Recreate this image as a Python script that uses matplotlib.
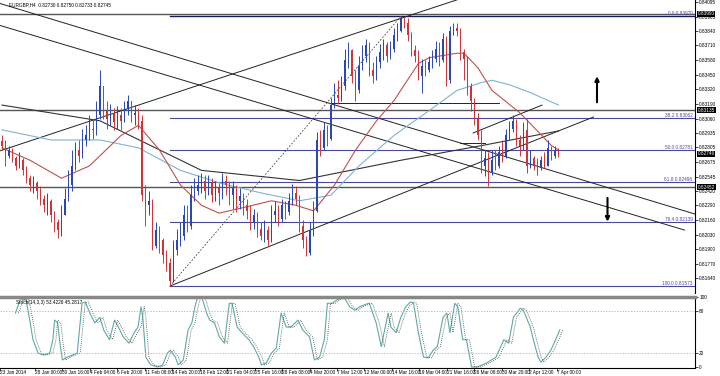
import matplotlib.pyplot as plt
import numpy as np

# EURGBP H4 chart, prices given in pips above 0.8100 (one candle per 8 hours)
open_first = 186
close_pips = [182, 173, 178, 171, 164, 169, 160, 153, 147, 149,
              142, 135, 129, 133, 120, 114, 107, 120, 135, 147,
              164, 178, 173, 187, 191, 197, 196, 209, 235, 213,
              206, 211, 203, 209, 204, 215, 222, 209, 211, 204,
              138, 129, 133, 93, 107, 98, 85, 78, 62, 89,
              98, 102, 120, 111, 138, 142, 147, 151, 142, 149,
              138, 144, 140, 151, 147, 138, 144, 133, 137, 129,
              124, 114, 120, 108, 102, 107, 98, 120, 124, 117,
              129, 123, 133, 140, 135, 111, 98, 87, 107, 124,
              187, 180, 196, 188, 218, 227, 224, 235, 258, 267,
              244, 231, 253, 262, 271, 249, 244, 256, 265, 271,
              262, 268, 280, 284, 294, 291, 280, 267, 262, 244,
              253, 249, 256, 259, 268, 258, 277, 240, 284, 286,
              284, 265, 259, 235, 222, 206, 191, 164, 171, 158,
              169, 164, 176, 173, 191, 197, 204, 187, 182, 196,
              164, 171, 164, 162, 169, 164, 180, 173, 178, 174.5]
high_pips = [191, 187, 182, 180, 173, 176, 171, 164, 156, 155,
             151, 146, 138, 140, 135, 124, 117, 129, 144, 160,
             178, 185, 187, 197, 200, 209, 206, 222, 249, 233,
             222, 219, 215, 217, 215, 222, 227, 222, 218, 215,
             209, 147, 142, 135, 114, 111, 100, 89, 82, 98,
             108, 114, 129, 129, 147, 153, 156, 158, 156, 156,
             153, 151, 149, 158, 156, 151, 151, 147, 144, 140,
             135, 129, 126, 123, 114, 116, 111, 129, 133, 129,
             135, 133, 140, 148, 146, 138, 116, 102, 114, 133,
             194, 196, 203, 200, 224, 238, 240, 244, 268, 274,
             268, 249, 262, 271, 277, 274, 256, 262, 272, 277,
             274, 275, 286, 291, 297, 296, 295, 283, 271, 267,
             259, 258, 262, 267, 275, 274, 282, 279, 288, 291,
             291, 286, 268, 262, 238, 224, 211, 196, 178, 176,
             178, 178, 182, 187, 197, 204, 209, 206, 191, 203,
             206, 178, 173, 171, 173, 176, 187, 182, 182, 180]
low_pips = [178, 164, 171, 167, 160, 162, 156, 149, 142, 140,
            135, 129, 123, 120, 114, 105, 100, 102, 120, 133,
            142, 160, 167, 171, 182, 187, 188, 191, 206, 206,
            197, 200, 196, 197, 196, 203, 209, 203, 200, 197,
            133, 111, 120, 89, 91, 87, 78, 71, 57, 61,
            85, 93, 98, 105, 108, 133, 138, 140, 135, 138,
            132, 133, 129, 135, 138, 129, 126, 123, 126, 120,
            117, 107, 108, 101, 98, 96, 93, 96, 114, 111,
            114, 117, 120, 129, 129, 105, 91, 84, 85, 102,
            123, 173, 178, 182, 187, 215, 219, 222, 231, 251,
            238, 222, 229, 249, 256, 244, 238, 240, 251, 258,
            256, 259, 265, 275, 283, 286, 275, 262, 256, 240,
            229, 244, 247, 251, 256, 253, 256, 235, 238, 280,
            279, 258, 240, 227, 213, 200, 187, 158, 155, 146,
            156, 160, 162, 167, 171, 187, 194, 182, 173, 178,
            158, 162, 160, 156, 160, 162, 164, 169, 171, 172]

# moving averages (bar index, pips)
ma_red_bar = [0, 8, 17, 25, 34, 39, 45, 51, 57, 62, 69, 77, 84, 89, 95, 101, 107,
              112, 119, 122, 130, 132, 136, 140, 148, 157, 159]
ma_red_pips = [180, 169, 153, 164, 191, 200, 178, 147, 129, 122, 127, 133, 129, 124,
               147, 178, 204, 222, 255, 260, 264, 264, 251, 231, 211, 182, 178]
ma_blue_bar = [0, 14, 28, 39, 51, 62, 74, 85, 94, 102, 112, 122, 130, 137, 140, 145, 151, 159]
ma_blue_pips = [196, 187, 187, 180, 160, 149, 140, 133, 138, 164, 191, 213, 231, 238,
                240, 236, 229, 218]
ma_dark_bar = [0, 28, 57, 85, 114, 137, 159]
ma_dark_pips = [218, 204, 160, 151, 169, 182, 195]

# fibonacci retracement (swing low -> swing high)
fib_low_bar, fib_high_bar = 48, 114
fib_names = ["0.0", "38.2", "50.0", "61.8", "76.4", "100.0"]
fib_prices = [0.83970, 0.83062, 0.82781, 0.82498, 0.82139, 0.81573]

# horizontal lines with black price tags
hlines = [0.83990, 0.83135, 0.82452]
tags = [0.83990, 0.83135, 0.82746, 0.82452]

# trend lines: (bar0, price0, bar1, price1)
trend_lines = [
    (-1, 0.82769, 150, 0.84320),
    (48, 0.81573, 169, 0.83074),
    (-1, 0.84086, 198, 0.82212),
    (-1, 0.83891, 195, 0.82070),
    (134.6, 0.82932, 154.3, 0.83180),
    (94, 0.83198, 142, 0.83198),
    (131, 0.82843, 138, 0.82843),
]

# stochastic %K (bar index, value)
stoch_bar = [0, 1.4, 3.1, 4.3, 5.1, 6.6, 8, 10, 10.9, 11.4, 12.3, 13.1, 13.7, 15.1, 16.6,
             18, 19.4, 20.3, 21.7, 23.1, 24.6, 25.7, 27.4, 28.9, 30, 31.4, 33.1, 34.6,
             35.7, 36.6, 37.1, 38, 39.4, 41.4, 42.9, 44.3, 45.1, 46.6, 47.4, 48.9, 50.3,
             51.4, 52.3, 53.1, 54.3, 55.7, 56.6, 58, 59.4, 60.9, 62.3, 63.1, 64.6, 66,
             68, 69.4, 70.9, 71.7, 73.1, 74.6, 76, 77.4, 78.9, 80.3, 82.3, 83.7, 85.7,
             87.1, 88.6, 90, 90.9, 92.3, 93.7, 95.7, 97.4, 98.9, 100.3, 102.3, 103.1,
             105.1, 106.6, 107.4, 108.6, 109.4, 110.9, 112.3, 113.7, 115.1, 116, 117.4,
             118.9, 120.3, 121.7, 122.9, 124.6, 125.7, 126.6, 128, 128.9, 130.3, 131.4,
             132.9, 134.6, 137.4, 140, 141.4, 142.3, 143.7, 145.1, 147.1, 148, 150,
             150.9, 152.3, 153.1, 154.6, 156, 157.4, 158.6]
stoch_k = [77, 96, 96, 63, 39, 20, 17, 20, 39, 67, 63, 29, 10, 14, 17,
           20, 91, 93, 77, 63, 71, 53, 39, 67, 57, 43, 34, 49,
           57, 86, 71, 14, 3, 0, 3, 20, 24, 14, 3, 10, 53,
           63, 86, 100, 100, 77, 67, 63, 43, 34, 91, 91, 57, 49,
           39, 29, 14, 3, 6, 20, 27, 77, 57, 57, 67, 53, 43,
           10, 14, 39, 91, 91, 96, 100, 86, 81, 86, 90, 91,
           63, 29, 49, 77, 57, 49, 71, 86, 93, 91, 49,
           14, 13, 24, 29, 71, 77, 49, 91, 86, 39, 39,
           0, 0, 6, 14, 29, 39, 34, 71, 84, 81, 57,
           39, 14, 7, 14, 24, 39, 53]

date_bar = [-4.5] + [5.7 + 8 * k for k in range(20)]
date_labels = ["23 Jan 2014", "28 Jan 00:00", "30 Jan 16:00", "4 Feb 04:00", "6 Feb 20:00",
               "11 Feb 08:00", "14 Feb 20:00", "18 Feb 12:00", "21 Feb 04:00", "25 Feb 16:00",
               "28 Feb 08:00", "4 Mar 20:00", "7 Mar 12:00", "12 Mar 00:00", "14 Mar 16:00",
               "19 Mar 04:00", "21 Mar 16:00", "26 Mar 08:00", "30 Mar 20:00", "2 Apr 12:00",
               "7 Apr 00:00"]
price_ticks = [0.84095, 0.83965, 0.83840, 0.83710, 0.83580, 0.83450, 0.83320, 0.83190,
               0.83060, 0.82935, 0.82805, 0.82675, 0.82545, 0.82420, 0.82290, 0.82160,
               0.82030, 0.81900, 0.81770, 0.81640]


def px(p):
    return 0.81 + np.asarray(p, dtype=float) / 10000


plt.rcParams['font.family'] = ['Liberation Sans', 'DejaVu Sans']
fs = 3.4
bull, bear = '#2a47b5', '#d0343a'
fibc = '#4a4a9a'

fig = plt.figure(figsize=(7.2, 3.76), dpi=100)
fig.patch.set_facecolor('white')
ax = fig.add_axes([0, 1 - 293 / 376, 695 / 720, 293 / 376])
ax2 = fig.add_axes([0, 1 - 368 / 376, 695 / 720, 71 / 376])
xlim = (-0.57, 198)

# candles
c = px(close_pips)
o = np.r_[px(open_first), c[:-1]]
h = px(high_pips)
l = px(low_pips)
x = np.arange(len(c))
col = np.where(c >= o, bull, bear)
ax.vlines(x, l, h, colors=col, lw=0.7, zorder=3)
body = np.where(np.abs(c - o) < 0.00002, 0.00002, c - o)
ax.bar(x, body, bottom=o, width=0.55, color=col, lw=0, zorder=4)

# moving averages
ax.plot(ma_dark_bar, px(ma_dark_pips), color='#333333', lw=0.8, zorder=2)
ax.plot(ma_blue_bar, px(ma_blue_pips), color='#7fb2d6', lw=0.8, zorder=2)
ax.plot(ma_red_bar, px(ma_red_pips), color='#c0504d', lw=0.8, zorder=2)

# horizontal lines
for p in hlines:
    ax.axhline(p, color='#555555', lw=1.0, zorder=1)
for name, p in zip(fib_names, fib_prices):
    ax.plot([fib_low_bar, xlim[1]], [p, p], color='#1a1a5e' if name == "0.0" else fibc,
            lw=1.0 if name == "0.0" else 0.8, zorder=1)
    ax.text(197.3, p + 0.00003, f"{name} {p:.5f}", fontsize=fs, color=fibc,
            ha='right', va='bottom')
ax.plot([fib_low_bar, fib_high_bar], [fib_prices[-1], fib_prices[0]], color='#444444',
        lw=0.6, ls=(0, (2, 2)), zorder=1)

# trend lines
for b0, p0, b1, p1 in trend_lines:
    ax.plot([b0, b1], [p0, p1], color='#222222', lw=0.7, zorder=1)

# arrows
ax.annotate('', xy=(170, px(246)), xytext=(170, px(218)),
            arrowprops=dict(arrowstyle='-|>', color='black', lw=1.5, mutation_scale=6))
ax.annotate('', xy=(173, px(112)), xytext=(173, px(138)),
            arrowprops=dict(arrowstyle='-|>', color='black', lw=1.5, mutation_scale=6))

ax.set_xlim(*xlim)
ax.set_ylim(0.81511, 0.84113)
ax.set_xticks([])
ax.yaxis.tick_right()
ax.set_yticks(price_ticks)
ax.set_yticklabels([f"{t:.5f}" for t in price_ticks])
ax.tick_params(axis='y', labelsize=fs, length=2, width=0.5, pad=1)
for s in ['top', 'left', 'bottom']:
    ax.spines[s].set_visible(False)
ax.spines['right'].set_linewidth(0.8)
for p in tags:
    ax.text(1.004, p, f"{p:.5f}", transform=ax.get_yaxis_transform(), fontsize=fs,
            color='white', va='center', ha='left', zorder=10,
            bbox=dict(boxstyle='square,pad=0.12', fc='black', ec='none'))
ax.text(2, 0.84070, "EURGBP,H4  0.82730 0.82750 0.82733 0.82745", fontsize=fs,
        color='black', va='center')

# stochastic
ax2.plot(stoch_bar, stoch_k, color='#5fa8a8', lw=0.8)
ax2.plot(np.array(stoch_bar) + 0.9, stoch_k, color='#444444', lw=0.6, ls=(0, (1, 1.5)))
for lv in (80, 20):
    ax2.axhline(lv, color='#aaaaaa', lw=0.5, ls=(0, (2, 2)))
ax2.set_xlim(*xlim)
ax2.set_ylim(-1.5, 100)
ax2.yaxis.tick_right()
ax2.set_yticks([0, 20, 80, 100])
ax2.tick_params(axis='y', labelsize=fs, length=2, width=0.5, pad=1)
ax2.set_xticks(date_bar)
ax2.set_xticklabels([])
ax2.tick_params(axis='x', length=2, width=0.5)
for b, t in zip(date_bar, date_labels):
    ax2.text(b, -0.06, t, transform=ax2.get_xaxis_transform(), fontsize=fs,
             ha='left', va='center', clip_on=False)
ax2.spines['left'].set_visible(False)
ax2.spines['top'].set_color('#888888')
ax2.spines['top'].set_linewidth(2.5)
ax2.spines['right'].set_linewidth(0.8)
ax2.spines['bottom'].set_linewidth(0.8)
ax2.text(0.3, 95, "Stoch(14,3,3) 53.4226 45.2817", fontsize=fs, va='top')

fig.savefig('out.png', dpi=100, facecolor='white')
